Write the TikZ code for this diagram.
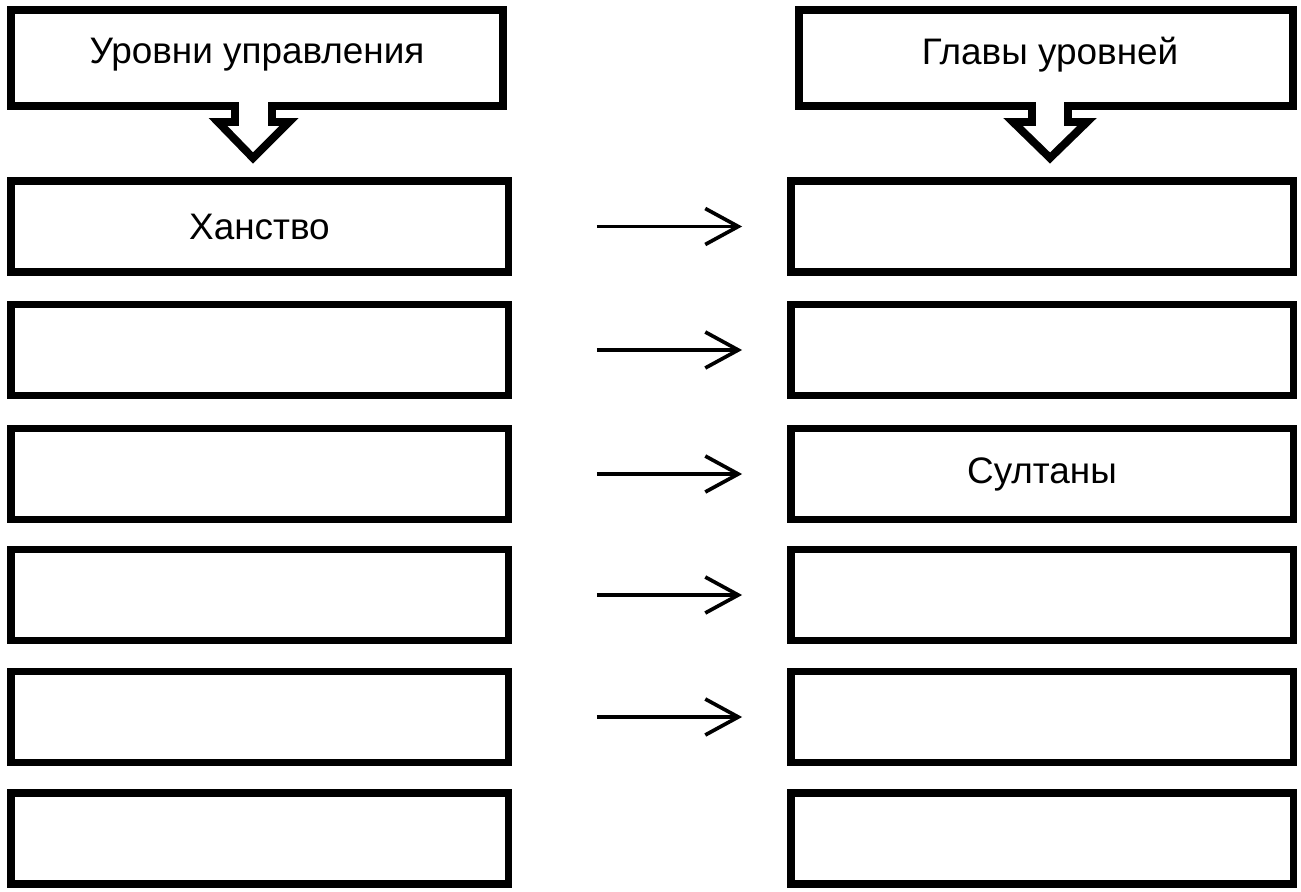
\documentclass[tikz,border=0pt]{standalone}
\usepackage{fontspec}
\setmainfont{Liberation Sans}
\usetikzlibrary{arrows.meta}

\begin{document}
\begin{tikzpicture}[x=0.02cm, y=-0.02cm,
    level/.style={draw, line width=4.5pt, minimum width=9.96cm, minimum height=1.82cm, inner sep=0pt, font=\fontsize{21}{25}\selectfont},
    title/.style={inner sep=0pt, font=\fontsize{21}{25}\selectfont},
    callout/.style={draw, line width=4.5pt, line join=miter},
    link/.style={-{Straight Barb[length=0.66cm, width=0.72cm]}, line width=2.1pt, shorten <=1.69cm, shorten >=0.89cm}]
    \useasboundingbox (0,0) rectangle (1301,892);

    % headers with down arrows
    \draw[callout] (11,10) -- (503,10) -- (503,106) -- (272,106) -- (272,122) -- (289,122) -- (253,158) -- (218,122) -- (235,122) -- (235,106) -- (11,106) -- cycle;
    \node[title] (lhead) at (257,55) {Уровни управления};
    \draw[callout] (799,10) -- (1293,10) -- (1293,106) -- (1068,106) -- (1068,122) -- (1087,122) -- (1050,158) -- (1013,122) -- (1032,122) -- (1032,106) -- (799,106) -- cycle;
    \node[title] (rhead) at (1050,55) {Главы уровней};

    % left column
    \node[level] (l1) at (259.5, 226.5) {Ханство};
    \node[level] (l2) at (259.5, 350) {};
    \node[level] (l3) at (259.5, 474) {};
    \node[level] (l4) at (259.5, 595) {};
    \node[level] (l5) at (259.5, 717) {};
    \node[level] (l6) at (259.5, 838.5) {};

    % right column
    \node[level, minimum width=10.06cm] (r1) at (1042, 226.5) {};
    \node[level, minimum width=10.06cm] (r2) at (1042, 350) {};
    \node[level, minimum width=10.06cm] (r3) at (1042, 474) {Султаны};
    \node[level, minimum width=10.06cm] (r4) at (1042, 595) {};
    \node[level, minimum width=10.06cm] (r5) at (1042, 717) {};
    \node[level, minimum width=10.06cm] (r6) at (1042, 838.5) {};

    \draw[link] (l1.east) -- (r1.west);
    \draw[link] (l2.east) -- (r2.west);
    \draw[link] (l3.east) -- (r3.west);
    \draw[link] (l4.east) -- (r4.west);
    \draw[link] (l5.east) -- (r5.west);
\end{tikzpicture}
\end{document}
